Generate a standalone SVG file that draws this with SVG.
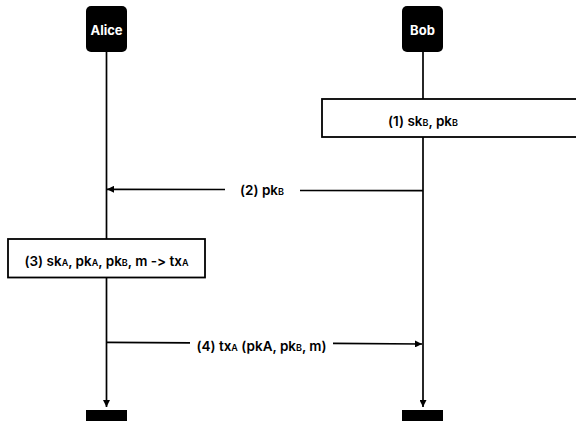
<svg xmlns="http://www.w3.org/2000/svg" width="576" height="421" viewBox="0 0 576 421">
<style>
.line{stroke:#000;stroke-width:1.7;fill:none}
.box{fill:#fff;stroke:#000;stroke-width:1.8}
.actor{fill:#000}
.lbl{font-family:Inter,"Liberation Sans",sans-serif;font-size:13.5px;font-weight:600;fill:#000;text-anchor:middle;font-variant-ligatures:none;font-feature-settings:"calt" 0,"liga" 0}
.an{font-family:Inter,"Liberation Sans",sans-serif;font-size:13px;font-weight:700;fill:#fff;text-anchor:middle}
.sub{font-size:9px}
</style>
<defs>
<marker id="ah" viewBox="0 0 10 10" refX="10" refY="5" markerWidth="7" markerHeight="7" markerUnits="userSpaceOnUse" orient="auto">
<path d="M0,0 L10,5 L0,10 z" fill="#000"/>
</marker>
</defs>
<rect width="576" height="421" fill="#fff"/>
<g id="connectors">
<line class="line" x1="106.5" y1="52" x2="106.5" y2="407" marker-end="url(#ah)"/>
<line class="line" x1="423" y1="52" x2="423" y2="407" marker-end="url(#ah)"/>
<polyline class="line" points="423,190.7 300,190.5"/>
<polyline class="line" points="225,189.5 107,189.3" marker-end="url(#ah)"/>
<polyline class="line" points="106.5,342.3 190,342.8"/>
<polyline class="line" points="333,343.3 422,344" marker-end="url(#ah)"/>
<text class="lbl" x="262" y="195">(2) pk<tspan class="sub">B</tspan></text>
<text class="lbl" x="261.5" y="351">(4) tx<tspan class="sub">A</tspan> (pkA, pk<tspan class="sub">B</tspan>, m)</text>
</g>
<g id="alice">
<rect class="actor" x="86" y="6" width="41" height="46" rx="5"/>
<text class="an" x="106.5" y="35">Alice</text>
</g>
<g id="bob">
<rect class="actor" x="402" y="6" width="41" height="46" rx="5"/>
<text class="an" x="422.5" y="35">Bob</text>
</g>
<g id="step1">
<rect class="box" x="322" y="99" width="260" height="38"/>
<text class="lbl" x="423" y="126">(1) sk<tspan class="sub">B</tspan>, pk<tspan class="sub">B</tspan></text>
</g>
<g id="step3">
<rect class="box" x="8" y="239" width="197" height="38.5"/>
<text class="lbl" x="106.5" y="266">(3) sk<tspan class="sub">A</tspan>, pk<tspan class="sub">A</tspan>, pk<tspan class="sub">B</tspan>, m -&gt; tx<tspan class="sub">A</tspan></text>
</g>
<g id="alice-end">
<rect class="actor" x="86" y="410" width="41" height="14"/>
</g>
<g id="bob-end">
<rect class="actor" x="402" y="410" width="41" height="14"/>
</g>
</svg>
